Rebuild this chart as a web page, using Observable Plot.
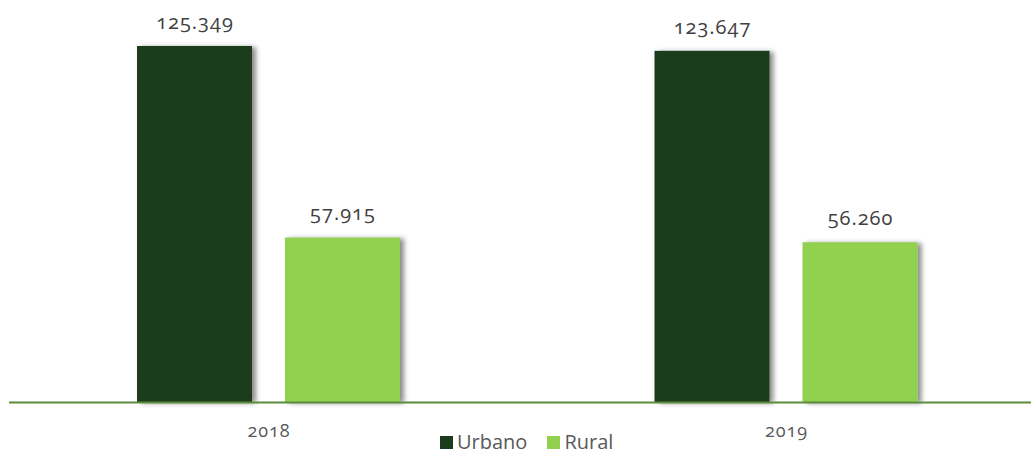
<!DOCTYPE html>
<html>
<head>
<meta charset="utf-8">
<script src="https://cdn.jsdelivr.net/npm/d3@7"></script>
<script src="https://cdn.jsdelivr.net/npm/@observablehq/plot@0.6"></script>
<style>
  html, body { margin: 0; padding: 0; background: #fff; }
  #wrap { position: relative; width: 1031px; height: 453px; }
  #legend { position: absolute; left: 440px; top: 433px; display: flex; align-items: center;
            font-family: "Open Sans", sans-serif; font-size: 20px; line-height: 18px; color: #595959; }
  #legend .item { display: flex; align-items: center; margin-right: 20px; }
  #legend .sw { width: 13px; height: 13px; margin-right: 4px; margin-top: 1px; }
</style>
</head>
<body>
<div id="wrap"></div>
<script>
const years = ["2018", "2019"];
const series = ["Urbano", "Rural"];
const urbano = [125349, 123647];
const rural = [57915, 56260];
const colors = ["#1b3d1e", "#92d050"];

const rows = [];
years.forEach((y, i) => {
  rows.push({year: y, series: "Urbano", value: urbano[i]});
  rows.push({year: y, series: "Rural", value: rural[i]});
});

const loc = d3.formatLocale({decimal: ",", thousands: ".", grouping: [3], currency: ["", ""]});
const fmt = loc.format(",");

const W = 1031, H = 453;
const plot = Plot.plot({
  width: W,
  height: H,
  marginTop: 0,
  marginBottom: 51,
  marginLeft: 137,
  marginRight: 113.5,
  style: {fontFamily: "'Open Sans', sans-serif", fontSize: "18px", color: "#595959", fontVariantNumeric: "oldstyle-nums", letterSpacing: "1px", background: "#fff"},
  facet: {data: rows, x: "year", marginBottom: 51},
  fx: {domain: years, paddingInner: 0.4918, paddingOuter: 0, label: null, tickSize: 0, tickPadding: 22, round: false},
  x: {domain: series, paddingInner: 0.223, paddingOuter: 0, axis: null, round: false},
  y: {domain: [0, 141547], axis: null},
  color: {domain: series, range: colors},
  marks: [
    Plot.barY(rows, {x: "series", y: "value", fill: "series"}),
    Plot.text(rows, {x: "series", y: "value", text: d => fmt(d.value), dy: -24, fontSize: 20, fill: "#404040", letterSpacing: "0.3px"})
  ]
});

const svg = d3.select(plot);
const defs = svg.insert("defs", ":first-child");
const f = defs.append("filter").attr("id", "sh").attr("x", "-10%").attr("y", "-10%").attr("width", "130%").attr("height", "130%");
f.append("feDropShadow").attr("dx", 4).attr("dy", 1).attr("stdDeviation", 2.5).attr("flood-color", "#000").attr("flood-opacity", 0.45);
svg.selectAll('g[aria-label="bar"] rect').attr("filter", "url(#sh)");

const y0 = plot.scale("y").apply(0);
svg.append("line").attr("x1", 9).attr("x2", W).attr("y1", y0 + 0.5).attr("y2", y0 + 0.5)
  .attr("stroke", "#5b8c3c").attr("stroke-width", 2);

const wrap = document.getElementById("wrap");
wrap.appendChild(plot);

const legend = document.createElement("div");
legend.id = "legend";
series.forEach((s, i) => {
  const it = document.createElement("div");
  it.className = "item";
  const sw = document.createElement("div");
  sw.className = "sw";
  sw.style.background = colors[i];
  const t = document.createElement("span");
  t.textContent = s;
  it.appendChild(sw); it.appendChild(t);
  legend.appendChild(it);
});
wrap.appendChild(legend);
</script>
</body>
</html>
